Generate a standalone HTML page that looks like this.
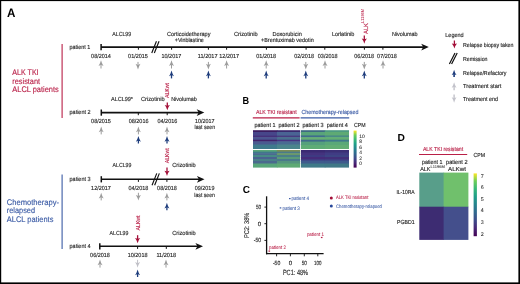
<!DOCTYPE html>
<html><head><meta charset="utf-8"><title>Figure</title><style>html,body{margin:0;padding:0;background:#fff;width:520px;height:284px;overflow:hidden}svg text{font-family:"Liberation Sans", sans-serif}svg{will-change:transform;text-rendering:geometricPrecision}</style></head><body>
<svg width="520" height="284" viewBox="0 0 520 284" style="display:block" font-family='"Liberation Sans", sans-serif'><rect x="0" y="0" width="520" height="1.1" fill="#000"/>
<rect x="0" y="0" width="1.2" height="284" fill="#000"/>
<rect x="518.4" y="0" width="1.6" height="284" fill="#000"/>
<rect x="0" y="282.4" width="520" height="1.6" fill="#000"/>
<text x="7.0" y="16.9" font-size="12.4" fill="#000" text-anchor="start" textLength="8.4" lengthAdjust="spacingAndGlyphs" font-weight="bold">A</text>
<text x="12.3" y="74.9" font-size="8.1" fill="#b91f47" text-anchor="start" stroke="#b91f47" stroke-width="0.14" textLength="26.3" lengthAdjust="spacingAndGlyphs">ALK TKI</text>
<text x="12.3" y="83.7" font-size="8.1" fill="#b91f47" text-anchor="start" stroke="#b91f47" stroke-width="0.14" textLength="27.8" lengthAdjust="spacingAndGlyphs">resistant</text>
<text x="12.3" y="92.3" font-size="8.1" fill="#b91f47" text-anchor="start" stroke="#b91f47" stroke-width="0.14" textLength="46.4" lengthAdjust="spacingAndGlyphs">ALCL patients</text>
<line x1="62.1" y1="44" x2="62.1" y2="118" stroke="#b91f47" stroke-width="1.1"/>
<text x="6.8" y="204.7" font-size="8.1" fill="#3b5ba5" text-anchor="start" stroke="#3b5ba5" stroke-width="0.14" textLength="52.3" lengthAdjust="spacingAndGlyphs">Chemotherapy-</text>
<text x="6.8" y="212.9" font-size="8.1" fill="#3b5ba5" text-anchor="start" stroke="#3b5ba5" stroke-width="0.14" textLength="28.2" lengthAdjust="spacingAndGlyphs">relapsed</text>
<text x="6.8" y="222.2" font-size="8.1" fill="#3b5ba5" text-anchor="start" stroke="#3b5ba5" stroke-width="0.14" textLength="46.6" lengthAdjust="spacingAndGlyphs">ALCL patients</text>
<line x1="62.1" y1="174.5" x2="62.1" y2="249" stroke="#3b5ba5" stroke-width="1.1"/>
<text x="69.6" y="48.9" font-size="5.9" fill="#262626" text-anchor="start" stroke="#262626" stroke-width="0.14" textLength="20.7" lengthAdjust="spacingAndGlyphs">patient 1</text>
<line x1="101.1" y1="47.1" x2="423.8" y2="47.1" stroke="#111111" stroke-width="1.6"/>
<line x1="101.1" y1="44.0" x2="101.1" y2="50.2" stroke="#111111" stroke-width="1.5"/>
<path d="M428.8 47.1L421.2 43.7L423.2 47.1L421.2 50.5Z" fill="#111111"/>
<line x1="138.4" y1="47.1" x2="138.4" y2="49.7" stroke="#111111" stroke-width="1.0"/>
<line x1="171.6" y1="47.1" x2="171.6" y2="49.7" stroke="#111111" stroke-width="1.0"/>
<line x1="208.4" y1="47.1" x2="208.4" y2="49.7" stroke="#111111" stroke-width="1.0"/>
<line x1="226.6" y1="47.1" x2="226.6" y2="49.7" stroke="#111111" stroke-width="1.0"/>
<line x1="266.4" y1="47.1" x2="266.4" y2="49.7" stroke="#111111" stroke-width="1.0"/>
<line x1="306.1" y1="47.1" x2="306.1" y2="49.7" stroke="#111111" stroke-width="1.0"/>
<line x1="324.8" y1="47.1" x2="324.8" y2="49.7" stroke="#111111" stroke-width="1.0"/>
<line x1="364.4" y1="47.1" x2="364.4" y2="49.7" stroke="#111111" stroke-width="1.0"/>
<line x1="382.9" y1="47.1" x2="382.9" y2="49.7" stroke="#111111" stroke-width="1.0"/>
<path d="M151.75 53.0L156.45 41.2 M154.35000000000002 53.0L159.05 41.2" fill="none" stroke="#111111" stroke-width="1.15"/>
<text x="121.7" y="36.0" font-size="5.9" fill="#262626" text-anchor="middle" stroke="#262626" stroke-width="0.14" textLength="18.8" lengthAdjust="spacingAndGlyphs">ALCL99</text>
<text x="188.7" y="36.0" font-size="5.9" fill="#262626" text-anchor="middle" stroke="#262626" stroke-width="0.14" textLength="43.5" lengthAdjust="spacingAndGlyphs">Corticoidetherapy</text>
<text x="189.3" y="42.0" font-size="5.9" fill="#262626" text-anchor="middle" stroke="#262626" stroke-width="0.14" textLength="29" lengthAdjust="spacingAndGlyphs">+Vinblastine</text>
<text x="245.8" y="36.2" font-size="5.9" fill="#262626" text-anchor="middle" stroke="#262626" stroke-width="0.14" textLength="23.5" lengthAdjust="spacingAndGlyphs">Crizotinib</text>
<text x="287.1" y="36.2" font-size="5.9" fill="#262626" text-anchor="middle" stroke="#262626" stroke-width="0.14" textLength="29.3" lengthAdjust="spacingAndGlyphs">Doxorubicin</text>
<text x="287.4" y="42.4" font-size="5.9" fill="#262626" text-anchor="middle" stroke="#262626" stroke-width="0.14" textLength="52.7" lengthAdjust="spacingAndGlyphs">+Brentuximab vedotin</text>
<text x="343.1" y="36.2" font-size="5.9" fill="#262626" text-anchor="middle" stroke="#262626" stroke-width="0.14" textLength="22.4" lengthAdjust="spacingAndGlyphs">Lorlatinib</text>
<text x="404.8" y="36.2" font-size="5.9" fill="#262626" text-anchor="middle" stroke="#262626" stroke-width="0.14" textLength="25.7" lengthAdjust="spacingAndGlyphs">Nivolumab</text>
<text x="101" y="57.5" font-size="5.9" fill="#262626" text-anchor="middle" stroke="#262626" stroke-width="0.14" textLength="19.8" lengthAdjust="spacingAndGlyphs">08/2014</text>
<text x="138" y="57.5" font-size="5.9" fill="#262626" text-anchor="middle" stroke="#262626" stroke-width="0.14" textLength="19.8" lengthAdjust="spacingAndGlyphs">01/2015</text>
<text x="171.4" y="57.5" font-size="5.9" fill="#262626" text-anchor="middle" stroke="#262626" stroke-width="0.14" textLength="19.8" lengthAdjust="spacingAndGlyphs">10/2017</text>
<text x="207.7" y="57.5" font-size="5.9" fill="#262626" text-anchor="middle" stroke="#262626" stroke-width="0.14" textLength="19.8" lengthAdjust="spacingAndGlyphs">11/2017</text>
<text x="229.2" y="57.5" font-size="5.9" fill="#262626" text-anchor="middle" stroke="#262626" stroke-width="0.14" textLength="19.8" lengthAdjust="spacingAndGlyphs">12/2017</text>
<text x="266.2" y="57.5" font-size="5.9" fill="#262626" text-anchor="middle" stroke="#262626" stroke-width="0.14" textLength="19.8" lengthAdjust="spacingAndGlyphs">01/2018</text>
<text x="304.1" y="57.5" font-size="5.9" fill="#262626" text-anchor="middle" stroke="#262626" stroke-width="0.14" textLength="19.8" lengthAdjust="spacingAndGlyphs">02/2018</text>
<text x="327.7" y="57.5" font-size="5.9" fill="#262626" text-anchor="middle" stroke="#262626" stroke-width="0.14" textLength="19.8" lengthAdjust="spacingAndGlyphs">03/2018</text>
<text x="364.2" y="57.5" font-size="5.9" fill="#262626" text-anchor="middle" stroke="#262626" stroke-width="0.14" textLength="19.8" lengthAdjust="spacingAndGlyphs">06/2018</text>
<text x="387.0" y="57.5" font-size="5.9" fill="#262626" text-anchor="middle" stroke="#262626" stroke-width="0.14" textLength="19.8" lengthAdjust="spacingAndGlyphs">07/2018</text>
<path d="M101 60.3Q101.8 63.5 103.5 66.0L101 64.8L98.5 66.0Q100.2 63.5 101 60.3Z" fill="#9c9c9c"/>
<line x1="101" y1="64.2" x2="101" y2="68.5" stroke="#9c9c9c" stroke-width="1.0"/>
<path d="M171.5 60.3Q172.3 63.5 174.0 66.0L171.5 64.8L169.0 66.0Q170.7 63.5 171.5 60.3Z" fill="#9c9c9c"/>
<line x1="171.5" y1="64.2" x2="171.5" y2="68.5" stroke="#9c9c9c" stroke-width="1.0"/>
<path d="M226.6 60.3Q227.4 63.5 229.1 66.0L226.6 64.8L224.1 66.0Q225.79999999999998 63.5 226.6 60.3Z" fill="#9c9c9c"/>
<line x1="226.6" y1="64.2" x2="226.6" y2="68.5" stroke="#9c9c9c" stroke-width="1.0"/>
<path d="M266.2 60.3Q267.0 63.5 268.7 66.0L266.2 64.8L263.7 66.0Q265.4 63.5 266.2 60.3Z" fill="#9c9c9c"/>
<line x1="266.2" y1="64.2" x2="266.2" y2="68.5" stroke="#9c9c9c" stroke-width="1.0"/>
<path d="M325 60.3Q325.8 63.5 327.5 66.0L325 64.8L322.5 66.0Q324.2 63.5 325 60.3Z" fill="#9c9c9c"/>
<line x1="325" y1="64.2" x2="325" y2="68.5" stroke="#9c9c9c" stroke-width="1.0"/>
<path d="M383 60.3Q383.8 63.5 385.5 66.0L383 64.8L380.5 66.0Q382.2 63.5 383 60.3Z" fill="#9c9c9c"/>
<line x1="383" y1="64.2" x2="383" y2="68.5" stroke="#9c9c9c" stroke-width="1.0"/>
<path d="M138 69.5Q138.8 66.3 140.5 63.8L138 65.0L135.5 63.8Q137.2 66.3 138 69.5Z" fill="#9c9c9c"/>
<line x1="138" y1="61.9" x2="138" y2="65.6" stroke="#9c9c9c" stroke-width="1.0"/>
<path d="M208.4 69.5Q209.20000000000002 66.3 210.9 63.8L208.4 65.0L205.9 63.8Q207.6 66.3 208.4 69.5Z" fill="#9c9c9c"/>
<line x1="208.4" y1="61.9" x2="208.4" y2="65.6" stroke="#9c9c9c" stroke-width="1.0"/>
<path d="M305.8 69.5Q306.6 66.3 308.3 63.8L305.8 65.0L303.3 63.8Q305.0 66.3 305.8 69.5Z" fill="#9c9c9c"/>
<line x1="305.8" y1="61.9" x2="305.8" y2="65.6" stroke="#9c9c9c" stroke-width="1.0"/>
<path d="M364.3 69.5Q365.1 66.3 366.8 63.8L364.3 65.0L361.8 63.8Q363.5 66.3 364.3 69.5Z" fill="#9c9c9c"/>
<line x1="364.3" y1="61.9" x2="364.3" y2="65.6" stroke="#9c9c9c" stroke-width="1.0"/>
<path d="M171.5 70.6Q172.3 73.8 174.0 76.3L171.5 75.1L169.0 76.3Q170.7 73.8 171.5 70.6Z" fill="#1d3c7c"/>
<line x1="171.5" y1="74.5" x2="171.5" y2="78.4" stroke="#1d3c7c" stroke-width="1.3"/>
<path d="M208.4 70.6Q209.20000000000002 73.8 210.9 76.3L208.4 75.1L205.9 76.3Q207.6 73.8 208.4 70.6Z" fill="#1d3c7c"/>
<line x1="208.4" y1="74.5" x2="208.4" y2="78.4" stroke="#1d3c7c" stroke-width="1.3"/>
<path d="M266.2 70.6Q267.0 73.8 268.7 76.3L266.2 75.1L263.7 76.3Q265.4 73.8 266.2 70.6Z" fill="#1d3c7c"/>
<line x1="266.2" y1="74.5" x2="266.2" y2="78.4" stroke="#1d3c7c" stroke-width="1.3"/>
<path d="M305.8 70.6Q306.6 73.8 308.3 76.3L305.8 75.1L303.3 76.3Q305.0 73.8 305.8 70.6Z" fill="#1d3c7c"/>
<line x1="305.8" y1="74.5" x2="305.8" y2="78.4" stroke="#1d3c7c" stroke-width="1.3"/>
<path d="M364.3 70.6Q365.1 73.8 366.8 76.3L364.3 75.1L361.8 76.3Q363.5 73.8 364.3 70.6Z" fill="#1d3c7c"/>
<line x1="364.3" y1="74.5" x2="364.3" y2="78.4" stroke="#1d3c7c" stroke-width="1.3"/>
<path d="M364.3 43.8Q365.1 40.599999999999994 366.90000000000003 38.599999999999994L364.3 39.3L361.7 38.599999999999994Q363.5 40.599999999999994 364.3 43.8Z" fill="#a30f38"/>
<line x1="364.3" y1="35.4" x2="364.3" y2="39.9" stroke="#a30f38" stroke-width="1.3"/>
<text x="367.8" y="34.0" font-size="6.2" fill="#b91f47" text-anchor="start" stroke="#b91f47" stroke-width="0.14" textLength="11.0" lengthAdjust="spacingAndGlyphs" transform="rotate(-90 367.8 34.0)">ALK</text>
<text x="364.3" y="23.0" font-size="4.3" fill="#b91f47" text-anchor="start" stroke="#b91f47" stroke-width="0.056" textLength="14.2" lengthAdjust="spacingAndGlyphs" transform="rotate(-90 364.3 23.0)">L1196M</text>
<text x="69.6" y="114.3" font-size="5.9" fill="#262626" text-anchor="start" stroke="#262626" stroke-width="0.14" textLength="20.9" lengthAdjust="spacingAndGlyphs">patient 2</text>
<line x1="101.3" y1="112.6" x2="199.3" y2="112.6" stroke="#111111" stroke-width="1.6"/>
<line x1="101.3" y1="109.5" x2="101.3" y2="115.69999999999999" stroke="#111111" stroke-width="1.5"/>
<path d="M204.3 112.6L196.70000000000002 109.19999999999999L198.70000000000002 112.6L196.70000000000002 116.0Z" fill="#111111"/>
<line x1="138.3" y1="112.6" x2="138.3" y2="115.19999999999999" stroke="#111111" stroke-width="1.0"/>
<line x1="167.2" y1="112.6" x2="167.2" y2="115.19999999999999" stroke="#111111" stroke-width="1.0"/>
<text x="122" y="100.8" font-size="5.9" fill="#262626" text-anchor="middle" stroke="#262626" stroke-width="0.14" textLength="22" lengthAdjust="spacingAndGlyphs">ALCL99*</text>
<text x="152.8" y="100.8" font-size="5.9" fill="#262626" text-anchor="middle" stroke="#262626" stroke-width="0.14" textLength="23.5" lengthAdjust="spacingAndGlyphs">Crizotinib</text>
<text x="184" y="100.8" font-size="5.9" fill="#262626" text-anchor="middle" stroke="#262626" stroke-width="0.14" textLength="25.7" lengthAdjust="spacingAndGlyphs">Nivolumab</text>
<text x="101" y="122.9" font-size="5.9" fill="#262626" text-anchor="middle" stroke="#262626" stroke-width="0.14" textLength="19.8" lengthAdjust="spacingAndGlyphs">08/2015</text>
<text x="138.6" y="122.9" font-size="5.9" fill="#262626" text-anchor="middle" stroke="#262626" stroke-width="0.14" textLength="19.8" lengthAdjust="spacingAndGlyphs">08/2016</text>
<text x="167.4" y="122.9" font-size="5.9" fill="#262626" text-anchor="middle" stroke="#262626" stroke-width="0.14" textLength="19.8" lengthAdjust="spacingAndGlyphs">04/2016</text>
<text x="204.8" y="122.9" font-size="5.9" fill="#262626" text-anchor="middle" stroke="#262626" stroke-width="0.14" textLength="19.6" lengthAdjust="spacingAndGlyphs">10/2017</text>
<text x="204.8" y="129.4" font-size="5.9" fill="#262626" text-anchor="middle" stroke="#262626" stroke-width="0.14" textLength="20.5" lengthAdjust="spacingAndGlyphs">last seen</text>
<path d="M101.2 126.6Q102.0 129.79999999999998 103.7 132.29999999999998L101.2 131.1L98.7 132.29999999999998Q100.4 129.79999999999998 101.2 126.6Z" fill="#9c9c9c"/>
<line x1="101.2" y1="130.5" x2="101.2" y2="134.4" stroke="#9c9c9c" stroke-width="1.0"/>
<path d="M138.4 126.6Q139.20000000000002 129.79999999999998 140.9 132.29999999999998L138.4 131.1L135.9 132.29999999999998Q137.6 129.79999999999998 138.4 126.6Z" fill="#9c9c9c"/>
<line x1="138.4" y1="130.5" x2="138.4" y2="134.4" stroke="#9c9c9c" stroke-width="1.0"/>
<path d="M167 126.6Q167.8 129.79999999999998 169.5 132.29999999999998L167 131.1L164.5 132.29999999999998Q166.2 129.79999999999998 167 126.6Z" fill="#9c9c9c"/>
<line x1="167" y1="130.5" x2="167" y2="134.4" stroke="#9c9c9c" stroke-width="1.0"/>
<path d="M138.4 136.0Q139.20000000000002 139.2 140.9 141.7L138.4 140.5L135.9 141.7Q137.6 139.2 138.4 136.0Z" fill="#1d3c7c"/>
<line x1="138.4" y1="139.9" x2="138.4" y2="143.5" stroke="#1d3c7c" stroke-width="1.3"/>
<path d="M167 136.0Q167.8 139.2 169.5 141.7L167 140.5L164.5 141.7Q166.2 139.2 167 136.0Z" fill="#1d3c7c"/>
<line x1="167" y1="139.9" x2="167" y2="143.5" stroke="#1d3c7c" stroke-width="1.3"/>
<path d="M167.3 110.3Q168.10000000000002 107.1 169.9 105.1L167.3 105.8L164.70000000000002 105.1Q166.5 107.1 167.3 110.3Z" fill="#a30f38"/>
<line x1="167.3" y1="102.4" x2="167.3" y2="106.39999999999999" stroke="#a30f38" stroke-width="1.3"/>
<text x="169.3" y="98.0" font-size="5.8" fill="#b91f47" text-anchor="start" stroke="#b91f47" stroke-width="0.14" textLength="14.9" lengthAdjust="spacingAndGlyphs" transform="rotate(-90 169.3 98.0)">ALKwt</text>
<text x="69.6" y="181.1" font-size="5.9" fill="#262626" text-anchor="start" stroke="#262626" stroke-width="0.14" textLength="20.9" lengthAdjust="spacingAndGlyphs">patient 3</text>
<line x1="101.3" y1="179.3" x2="199.5" y2="179.3" stroke="#111111" stroke-width="1.6"/>
<line x1="101.3" y1="176.20000000000002" x2="101.3" y2="182.4" stroke="#111111" stroke-width="1.5"/>
<path d="M204.5 179.3L196.9 175.9L198.9 179.3L196.9 182.70000000000002Z" fill="#111111"/>
<line x1="138.4" y1="179.3" x2="138.4" y2="181.9" stroke="#111111" stroke-width="1.0"/>
<line x1="166.9" y1="179.3" x2="166.9" y2="181.9" stroke="#111111" stroke-width="1.0"/>
<path d="M152.04999999999998 185.20000000000002L156.74999999999997 173.4 M154.65 185.20000000000002L159.35 173.4" fill="none" stroke="#111111" stroke-width="1.15"/>
<text x="122" y="167.0" font-size="5.9" fill="#262626" text-anchor="middle" stroke="#262626" stroke-width="0.14" textLength="18.8" lengthAdjust="spacingAndGlyphs">ALCL99</text>
<text x="184" y="167.0" font-size="5.9" fill="#262626" text-anchor="middle" stroke="#262626" stroke-width="0.14" textLength="23.5" lengthAdjust="spacingAndGlyphs">Crizotinib</text>
<text x="101" y="190.2" font-size="5.9" fill="#262626" text-anchor="middle" stroke="#262626" stroke-width="0.14" textLength="19.8" lengthAdjust="spacingAndGlyphs">12/2017</text>
<text x="138.4" y="190.2" font-size="5.9" fill="#262626" text-anchor="middle" stroke="#262626" stroke-width="0.14" textLength="19.8" lengthAdjust="spacingAndGlyphs">04/2018</text>
<text x="167" y="190.2" font-size="5.9" fill="#262626" text-anchor="middle" stroke="#262626" stroke-width="0.14" textLength="19.8" lengthAdjust="spacingAndGlyphs">08/2018</text>
<text x="204.6" y="190.2" font-size="5.9" fill="#262626" text-anchor="middle" stroke="#262626" stroke-width="0.14" textLength="19.6" lengthAdjust="spacingAndGlyphs">09/2019</text>
<text x="204.6" y="196.8" font-size="5.9" fill="#262626" text-anchor="middle" stroke="#262626" stroke-width="0.14" textLength="20.5" lengthAdjust="spacingAndGlyphs">last seen</text>
<path d="M101.2 192.8Q102.0 196.0 103.7 198.5L101.2 197.3L98.7 198.5Q100.4 196.0 101.2 192.8Z" fill="#9c9c9c"/>
<line x1="101.2" y1="196.70000000000002" x2="101.2" y2="200.4" stroke="#9c9c9c" stroke-width="1.0"/>
<path d="M138.4 200.6Q139.20000000000002 197.4 140.9 194.9L138.4 196.1L135.9 194.9Q137.6 197.4 138.4 200.6Z" fill="#9c9c9c"/>
<line x1="138.4" y1="192.8" x2="138.4" y2="196.7" stroke="#9c9c9c" stroke-width="1.0"/>
<path d="M166.9 192.8Q167.70000000000002 196.0 169.4 198.5L166.9 197.3L164.4 198.5Q166.1 196.0 166.9 192.8Z" fill="#9c9c9c"/>
<line x1="166.9" y1="196.70000000000002" x2="166.9" y2="200.4" stroke="#9c9c9c" stroke-width="1.0"/>
<path d="M166.9 202.8Q167.70000000000002 206.0 169.4 208.5L166.9 207.3L164.4 208.5Q166.1 206.0 166.9 202.8Z" fill="#1d3c7c"/>
<line x1="166.9" y1="206.70000000000002" x2="166.9" y2="210.3" stroke="#1d3c7c" stroke-width="1.3"/>
<path d="M167.0 176.0Q167.8 172.8 169.6 170.8L167.0 171.5L164.4 170.8Q166.2 172.8 167.0 176.0Z" fill="#a30f38"/>
<line x1="167.0" y1="167.6" x2="167.0" y2="172.1" stroke="#a30f38" stroke-width="1.3"/>
<text x="169.2" y="163.2" font-size="5.8" fill="#b91f47" text-anchor="start" stroke="#b91f47" stroke-width="0.14" textLength="14.9" lengthAdjust="spacingAndGlyphs" transform="rotate(-90 169.2 163.2)">ALKwt</text>
<text x="69.6" y="248.0" font-size="5.9" fill="#262626" text-anchor="start" stroke="#262626" stroke-width="0.14" textLength="20.9" lengthAdjust="spacingAndGlyphs">patient 4</text>
<line x1="99.8" y1="246.3" x2="198" y2="246.3" stroke="#111111" stroke-width="1.6"/>
<line x1="99.8" y1="243.20000000000002" x2="99.8" y2="249.4" stroke="#111111" stroke-width="1.5"/>
<path d="M203 246.3L195.4 242.9L197.4 246.3L195.4 249.70000000000002Z" fill="#111111"/>
<line x1="137.6" y1="246.3" x2="137.6" y2="248.9" stroke="#111111" stroke-width="1.0"/>
<line x1="166.3" y1="246.3" x2="166.3" y2="248.9" stroke="#111111" stroke-width="1.0"/>
<text x="119" y="234.8" font-size="5.9" fill="#262626" text-anchor="middle" stroke="#262626" stroke-width="0.14" textLength="18.8" lengthAdjust="spacingAndGlyphs">ALCL99</text>
<text x="184" y="234.8" font-size="5.9" fill="#262626" text-anchor="middle" stroke="#262626" stroke-width="0.14" textLength="23.5" lengthAdjust="spacingAndGlyphs">Crizotinib</text>
<text x="100" y="256.9" font-size="5.9" fill="#262626" text-anchor="middle" stroke="#262626" stroke-width="0.14" textLength="19.8" lengthAdjust="spacingAndGlyphs">06/2018</text>
<text x="137.6" y="256.9" font-size="5.9" fill="#262626" text-anchor="middle" stroke="#262626" stroke-width="0.14" textLength="19.8" lengthAdjust="spacingAndGlyphs">10/2018</text>
<text x="166.3" y="256.9" font-size="5.9" fill="#262626" text-anchor="middle" stroke="#262626" stroke-width="0.14" textLength="19.8" lengthAdjust="spacingAndGlyphs">11/2018</text>
<path d="M100 259.6Q100.8 262.8 102.5 265.3L100 264.1L97.5 265.3Q99.2 262.8 100 259.6Z" fill="#9c9c9c"/>
<line x1="100" y1="263.5" x2="100" y2="267.6" stroke="#9c9c9c" stroke-width="1.0"/>
<path d="M137.6 267.8Q138.4 264.6 140.1 262.1L137.6 263.3L135.1 262.1Q136.79999999999998 264.6 137.6 267.8Z" fill="#bfbfc6"/>
<line x1="137.6" y1="259.8" x2="137.6" y2="263.90000000000003" stroke="#bfbfc6" stroke-width="1.0"/>
<path d="M166.0 259.6Q166.8 262.8 168.5 265.3L166.0 264.1L163.5 265.3Q165.2 262.8 166.0 259.6Z" fill="#9c9c9c"/>
<line x1="166.0" y1="263.5" x2="166.0" y2="267.6" stroke="#9c9c9c" stroke-width="1.0"/>
<path d="M137.6 269.6Q138.4 272.8 140.1 275.3L137.6 274.1L135.1 275.3Q136.79999999999998 272.8 137.6 269.6Z" fill="#1d3c7c"/>
<line x1="137.6" y1="273.5" x2="137.6" y2="277" stroke="#1d3c7c" stroke-width="1.3"/>
<path d="M137.6 243.2Q138.4 240.0 140.2 238.0L137.6 238.7L135.0 238.0Q136.79999999999998 240.0 137.6 243.2Z" fill="#a30f38"/>
<line x1="137.6" y1="235.2" x2="137.6" y2="239.29999999999998" stroke="#a30f38" stroke-width="1.3"/>
<text x="139.8" y="230.4" font-size="5.8" fill="#b91f47" text-anchor="start" stroke="#b91f47" stroke-width="0.14" textLength="14.9" lengthAdjust="spacingAndGlyphs" transform="rotate(-90 139.8 230.4)">ALKwt</text>
<text x="445.3" y="37.0" font-size="5.9" fill="#262626" text-anchor="start" stroke="#262626" stroke-width="0.14" textLength="18.4" lengthAdjust="spacingAndGlyphs">Legend</text>
<path d="M454.4 48.6Q455.2 45.4 457.0 43.4L454.4 44.1L451.79999999999995 43.4Q453.59999999999997 45.4 454.4 48.6Z" fill="#a30f38"/>
<line x1="454.4" y1="40.5" x2="454.4" y2="44.7" stroke="#a30f38" stroke-width="1.3"/>
<text x="463.0" y="46.8" font-size="5.9" fill="#262626" text-anchor="start" stroke="#262626" stroke-width="0.14" textLength="50.4" lengthAdjust="spacingAndGlyphs">Relapse biopsy taken</text>
<path d="M449.4 64.1L455 52.9 M451.6 64.1L457.2 52.9" fill="none" stroke="#111111" stroke-width="1.2"/>
<text x="463.0" y="60.6" font-size="5.9" fill="#262626" text-anchor="start" stroke="#262626" stroke-width="0.14" textLength="24.5" lengthAdjust="spacingAndGlyphs">Remission</text>
<path d="M454.1 69.7Q454.90000000000003 72.9 456.5 75.10000000000001L454.1 74.2L451.70000000000005 75.10000000000001Q453.3 72.9 454.1 69.7Z" fill="#1d3c7c"/>
<line x1="454.1" y1="73.60000000000001" x2="454.1" y2="76.9" stroke="#1d3c7c" stroke-width="1.6"/>
<text x="463.0" y="75.0" font-size="5.9" fill="#262626" text-anchor="start" stroke="#262626" stroke-width="0.14" textLength="43.5" lengthAdjust="spacingAndGlyphs">Relapse/Refactory</text>
<path d="M454.1 82.2Q454.90000000000003 85.4 456.5 87.8L454.1 86.7L451.70000000000005 87.8Q453.3 85.4 454.1 82.2Z" fill="#c2c2ca"/>
<line x1="454.1" y1="86.10000000000001" x2="454.1" y2="90.2" stroke="#c2c2ca" stroke-width="1.4"/>
<text x="463.0" y="88.0" font-size="5.9" fill="#262626" text-anchor="start" stroke="#262626" stroke-width="0.14" textLength="38.3" lengthAdjust="spacingAndGlyphs">Treatment start</text>
<path d="M454.1 102.8Q454.90000000000003 99.6 456.5 97.2L454.1 98.3L451.70000000000005 97.2Q453.3 99.6 454.1 102.8Z" fill="#c2c2ca"/>
<line x1="454.1" y1="94.6" x2="454.1" y2="98.89999999999999" stroke="#c2c2ca" stroke-width="1.4"/>
<text x="463.0" y="100.6" font-size="5.9" fill="#262626" text-anchor="start" stroke="#262626" stroke-width="0.14" textLength="35" lengthAdjust="spacingAndGlyphs">Treatment end</text>
<!-- Panel B -->
<text x="242.6" y="104.0" font-size="10.2" fill="#000" text-anchor="start" textLength="6.6" lengthAdjust="spacingAndGlyphs" font-weight="bold">B</text>
<text x="276.3" y="114.3" font-size="5.9" fill="#b91f47" text-anchor="middle" stroke="#b91f47" stroke-width="0.14" textLength="40.8" lengthAdjust="spacingAndGlyphs">ALK TKI resistant</text>
<line x1="252.8" y1="117.9" x2="299.6" y2="117.9" stroke="#b91f47" stroke-width="1.1"/>
<text x="329.9" y="114.3" font-size="5.9" fill="#3b5ba5" text-anchor="middle" stroke="#3b5ba5" stroke-width="0.14" textLength="57" lengthAdjust="spacingAndGlyphs">Chemotherapy-relapsed</text>
<line x1="300.6" y1="117.9" x2="349.2" y2="117.9" stroke="#3b5ba5" stroke-width="1.1"/>
<text x="265" y="126.5" font-size="5.9" fill="#262626" text-anchor="middle" stroke="#262626" stroke-width="0.14" textLength="21" lengthAdjust="spacingAndGlyphs">patient 1</text>
<text x="289" y="126.5" font-size="5.9" fill="#262626" text-anchor="middle" stroke="#262626" stroke-width="0.14" textLength="21" lengthAdjust="spacingAndGlyphs">patient 2</text>
<text x="313" y="126.5" font-size="5.9" fill="#262626" text-anchor="middle" stroke="#262626" stroke-width="0.14" textLength="21" lengthAdjust="spacingAndGlyphs">patient 3</text>
<text x="337.3" y="126.5" font-size="5.9" fill="#262626" text-anchor="middle" stroke="#262626" stroke-width="0.14" textLength="21" lengthAdjust="spacingAndGlyphs">patient 4</text>
<text x="354" y="126.5" font-size="5.9" fill="#262626" text-anchor="start" stroke="#262626" stroke-width="0.14" textLength="11.6" lengthAdjust="spacingAndGlyphs">CPM</text>
<rect x="253" y="130.2" width="24.4" height="2.4" fill="#3b1d60"/>
<rect x="253" y="132" width="24.4" height="4.2" fill="#47468a"/>
<rect x="253" y="135.6" width="24.4" height="2.2" fill="#45307a"/>
<rect x="253" y="137.2" width="24.4" height="3.1" fill="#4a5590"/>
<rect x="253" y="139.7" width="24.4" height="2.2" fill="#42226a"/>
<rect x="253" y="141.3" width="24.4" height="3.8" fill="#4a5a90"/>
<rect x="253" y="144.5" width="24.4" height="4.5" fill="#3f7a8c"/>
<rect x="253" y="150" width="24.4" height="2.2" fill="#5aa678"/>
<rect x="253" y="151.6" width="24.4" height="2.2" fill="#3f7a8a"/>
<rect x="253" y="153.2" width="24.4" height="2.4" fill="#4a6a90"/>
<rect x="253" y="155" width="24.4" height="2.6" fill="#478a86"/>
<rect x="253" y="157" width="24.4" height="2.6" fill="#4a6290"/>
<rect x="253" y="159" width="24.4" height="2.6" fill="#4a8088"/>
<rect x="253" y="161" width="24.4" height="3.1" fill="#4a6a8e"/>
<rect x="253" y="163.5" width="24.4" height="4.1" fill="#58a67a"/>
<rect x="276.9" y="130.2" width="23.3" height="2.4" fill="#3a2a6e"/>
<rect x="276.9" y="132" width="23.3" height="4.2" fill="#4a6494"/>
<rect x="276.9" y="135.6" width="23.3" height="2.2" fill="#483a80"/>
<rect x="276.9" y="137.2" width="23.3" height="3.1" fill="#48708e"/>
<rect x="276.9" y="139.7" width="23.3" height="2.2" fill="#473282"/>
<rect x="276.9" y="141.3" width="23.3" height="3.8" fill="#486a92"/>
<rect x="276.9" y="144.5" width="23.3" height="4.5" fill="#4a848c"/>
<rect x="276.9" y="150" width="23.3" height="2.2" fill="#7a8c56"/>
<rect x="276.9" y="151.6" width="23.3" height="2.2" fill="#4a7a8a"/>
<rect x="276.9" y="153.2" width="23.3" height="2.4" fill="#6a9868"/>
<rect x="276.9" y="155" width="23.3" height="2.6" fill="#4a7e8a"/>
<rect x="276.9" y="157" width="23.3" height="2.6" fill="#5a9a78"/>
<rect x="276.9" y="159" width="23.3" height="2.6" fill="#4a7a8a"/>
<rect x="276.9" y="161" width="23.3" height="3.1" fill="#54947e"/>
<rect x="276.9" y="163.5" width="23.3" height="4.1" fill="#5eaa74"/>
<rect x="301" y="130.2" width="24.3" height="2.4" fill="#3e6a82"/>
<rect x="301" y="132" width="24.3" height="4.0" fill="#58a47a"/>
<rect x="301" y="135.4" width="24.3" height="2.4" fill="#3f6c8e"/>
<rect x="301" y="137.2" width="24.3" height="3.1" fill="#66ae74"/>
<rect x="301" y="139.7" width="24.3" height="2.5" fill="#3f6a8c"/>
<rect x="301" y="141.6" width="24.3" height="4.0" fill="#55a07c"/>
<rect x="301" y="145" width="24.3" height="4.0" fill="#5eac76"/>
<rect x="301" y="150" width="24.3" height="3.1" fill="#3a2a72"/>
<rect x="301" y="152.5" width="24.3" height="3.1" fill="#44337e"/>
<rect x="301" y="155" width="24.3" height="2.6" fill="#3e3a82"/>
<rect x="301" y="157" width="24.3" height="3.1" fill="#452c7a"/>
<rect x="301" y="159.5" width="24.3" height="2.1" fill="#3f4a88"/>
<rect x="301" y="161" width="24.3" height="3.1" fill="#3f5a8c"/>
<rect x="301" y="163.5" width="24.3" height="4.1" fill="#3f7a88"/>
<rect x="324.8" y="130.2" width="24.2" height="2.4" fill="#4c9a80"/>
<rect x="324.8" y="132" width="24.2" height="4.0" fill="#5eaa74"/>
<rect x="324.8" y="135.4" width="24.2" height="2.4" fill="#4a8a86"/>
<rect x="324.8" y="137.2" width="24.2" height="3.1" fill="#62ae72"/>
<rect x="324.8" y="139.7" width="24.2" height="2.5" fill="#3f7a8c"/>
<rect x="324.8" y="141.6" width="24.2" height="4.0" fill="#5aa878"/>
<rect x="324.8" y="145" width="24.2" height="4.0" fill="#62ae74"/>
<rect x="324.8" y="150" width="24.2" height="3.1" fill="#3b3076"/>
<rect x="324.8" y="152.5" width="24.2" height="3.1" fill="#403c84"/>
<rect x="324.8" y="155" width="24.2" height="2.6" fill="#3d4484"/>
<rect x="324.8" y="157" width="24.2" height="3.1" fill="#42307a"/>
<rect x="324.8" y="159.5" width="24.2" height="2.1" fill="#3e4a88"/>
<rect x="324.8" y="161" width="24.2" height="3.1" fill="#3f5a8c"/>
<rect x="324.8" y="163.5" width="24.2" height="4.1" fill="#407886"/>
<defs><linearGradient id="vir" x1="0" y1="1" x2="0" y2="0"><stop offset="0" stop-color="#440154"/><stop offset="0.13" stop-color="#482878"/><stop offset="0.25" stop-color="#3e4a89"/><stop offset="0.38" stop-color="#31688e"/><stop offset="0.5" stop-color="#26828e"/><stop offset="0.63" stop-color="#1f9e89"/><stop offset="0.75" stop-color="#35b779"/><stop offset="0.88" stop-color="#6ece58"/><stop offset="1" stop-color="#fde725"/></linearGradient></defs>
<rect x="353.6" y="130.6" width="3" height="37" fill="url(#vir)"/>
<text x="359.3" y="137.85" font-size="4.9" fill="#262626" text-anchor="start" stroke="#262626" stroke-width="0.056" textLength="5.6" lengthAdjust="spacingAndGlyphs">10</text>
<text x="359.3" y="143.29" font-size="4.9" fill="#262626" text-anchor="start" stroke="#262626" stroke-width="0.056">8</text>
<text x="359.3" y="148.73" font-size="4.9" fill="#262626" text-anchor="start" stroke="#262626" stroke-width="0.056">6</text>
<text x="359.3" y="154.17" font-size="4.9" fill="#262626" text-anchor="start" stroke="#262626" stroke-width="0.056">4</text>
<text x="359.3" y="159.60999999999999" font-size="4.9" fill="#262626" text-anchor="start" stroke="#262626" stroke-width="0.056">2</text>
<text x="359.3" y="165.05" font-size="4.9" fill="#262626" text-anchor="start" stroke="#262626" stroke-width="0.056">0</text>
<!-- Panel C -->
<text x="242.8" y="193.0" font-size="10.2" fill="#000" text-anchor="start" textLength="7.2" lengthAdjust="spacingAndGlyphs" font-weight="bold">C</text>
<line x1="266.6" y1="196.3" x2="266.6" y2="254.3" stroke="#111" stroke-width="1.3"/>
<line x1="266.0" y1="253.7" x2="323.6" y2="253.7" stroke="#111" stroke-width="1.3"/>
<line x1="264.4" y1="207.1" x2="266.6" y2="207.1" stroke="#111" stroke-width="0.9"/>
<text x="261.2" y="209.1" font-size="6.0" fill="#262626" text-anchor="end" stroke="#262626" stroke-width="0.14" textLength="5.2" lengthAdjust="spacingAndGlyphs">50</text>
<line x1="264.4" y1="223.7" x2="266.6" y2="223.7" stroke="#111" stroke-width="0.9"/>
<text x="261.2" y="225.7" font-size="6.0" fill="#262626" text-anchor="end" stroke="#262626" stroke-width="0.14">0</text>
<line x1="264.4" y1="240.4" x2="266.6" y2="240.4" stroke="#111" stroke-width="0.9"/>
<text x="261.2" y="242.4" font-size="6.0" fill="#262626" text-anchor="end" stroke="#262626" stroke-width="0.14" textLength="7.4" lengthAdjust="spacingAndGlyphs">-50</text>
<line x1="276.6" y1="253.7" x2="276.6" y2="256.3" stroke="#111" stroke-width="0.9"/>
<text x="276.6" y="264.8" font-size="6.0" fill="#262626" text-anchor="middle" stroke="#262626" stroke-width="0.14" textLength="7.4" lengthAdjust="spacingAndGlyphs">-50</text>
<line x1="290.4" y1="253.7" x2="290.4" y2="256.3" stroke="#111" stroke-width="0.9"/>
<text x="290.4" y="264.8" font-size="6.0" fill="#262626" text-anchor="middle" stroke="#262626" stroke-width="0.14">0</text>
<line x1="304.3" y1="253.7" x2="304.3" y2="256.3" stroke="#111" stroke-width="0.9"/>
<text x="304.3" y="264.8" font-size="6.0" fill="#262626" text-anchor="middle" stroke="#262626" stroke-width="0.14" textLength="5.2" lengthAdjust="spacingAndGlyphs">50</text>
<line x1="317.8" y1="253.7" x2="317.8" y2="256.3" stroke="#111" stroke-width="0.9"/>
<text x="317.8" y="264.8" font-size="6.0" fill="#262626" text-anchor="middle" stroke="#262626" stroke-width="0.14" textLength="7.4" lengthAdjust="spacingAndGlyphs">100</text>
<text x="295.5" y="275.3" font-size="7.5" fill="#262626" text-anchor="middle" stroke="#262626" stroke-width="0.14" textLength="25.2" lengthAdjust="spacingAndGlyphs">PC1: 48%</text>
<text x="248.6" y="225.4" font-size="7.0" fill="#262626" text-anchor="middle" stroke="#262626" stroke-width="0.14" textLength="25.4" lengthAdjust="spacingAndGlyphs" transform="rotate(-90 248.6 225.4)">PC2: 38%</text>
<rect x="289.0" y="198.0" width="1.6" height="1.2" fill="#3b5ba5"/>
<rect x="279.7" y="207.3" width="1.6" height="1.2" fill="#3b5ba5"/>
<rect x="320.9" y="236.9" width="1.6" height="1.2" fill="#b91f47"/>
<rect x="268.5" y="250.5" width="1.6" height="1.2" fill="#b91f47"/>
<text x="291.5" y="200.2" font-size="5.0" fill="#3b5ba5" text-anchor="start" stroke="#3b5ba5" stroke-width="0.056" textLength="17.5" lengthAdjust="spacingAndGlyphs">patient 4</text>
<text x="282.4" y="209.9" font-size="5.0" fill="#3b5ba5" text-anchor="start" stroke="#3b5ba5" stroke-width="0.056" textLength="17.5" lengthAdjust="spacingAndGlyphs">patient 3</text>
<text x="306.9" y="236.0" font-size="5.0" fill="#b91f47" text-anchor="start" stroke="#b91f47" stroke-width="0.056" textLength="17.1" lengthAdjust="spacingAndGlyphs">patient 1</text>
<text x="269.0" y="249.4" font-size="5.0" fill="#b91f47" text-anchor="start" stroke="#b91f47" stroke-width="0.056" textLength="16.9" lengthAdjust="spacingAndGlyphs">patient 2</text>
<circle cx="331.3" cy="198.0" r="1.5" fill="#a30f38"/>
<circle cx="331.3" cy="205.9" r="1.5" fill="#27479a"/>
<text x="336" y="199.1" font-size="5.0" fill="#b91f47" text-anchor="start" stroke="#b91f47" stroke-width="0.056" textLength="32.3" lengthAdjust="spacingAndGlyphs">ALK TKI resistant</text>
<text x="336" y="207.5" font-size="5.0" fill="#3b5ba5" text-anchor="start" stroke="#3b5ba5" stroke-width="0.056" textLength="46" lengthAdjust="spacingAndGlyphs">Chemotherapy-relapsed</text>
<!-- Panel D -->
<text x="397.4" y="140.7" font-size="10.2" fill="#000" text-anchor="start" textLength="7.4" lengthAdjust="spacingAndGlyphs" font-weight="bold">D</text>
<text x="443.0" y="151.0" font-size="5.9" fill="#b91f47" text-anchor="middle" stroke="#b91f47" stroke-width="0.14" textLength="40.2" lengthAdjust="spacingAndGlyphs">ALK TKI resistant</text>
<line x1="419" y1="154.5" x2="467.2" y2="154.5" stroke="#b91f47" stroke-width="1.1"/>
<text x="432.2" y="163.6" font-size="5.9" fill="#262626" text-anchor="middle" stroke="#262626" stroke-width="0.14" textLength="20.5" lengthAdjust="spacingAndGlyphs">patient 1</text>
<text x="456.8" y="163.6" font-size="5.9" fill="#262626" text-anchor="middle" stroke="#262626" stroke-width="0.14" textLength="21.5" lengthAdjust="spacingAndGlyphs">patient 2</text>
<text x="420.2" y="170.7" font-size="5.9" fill="#262626" text-anchor="start" stroke="#262626" stroke-width="0.14" textLength="10.3" lengthAdjust="spacingAndGlyphs">ALK</text>
<text x="430.6" y="168.0" font-size="4.0" fill="#262626" text-anchor="start" stroke="#262626" stroke-width="0.056" textLength="14.2" lengthAdjust="spacingAndGlyphs">L1196M</text>
<text x="448.0" y="170.7" font-size="5.9" fill="#262626" text-anchor="start" stroke="#262626" stroke-width="0.14" textLength="18.0" lengthAdjust="spacingAndGlyphs">ALKwt</text>
<text x="473.6" y="156.5" font-size="5.9" fill="#262626" text-anchor="start" stroke="#262626" stroke-width="0.14" textLength="11.6" lengthAdjust="spacingAndGlyphs">CPM</text>
<rect x="419.3" y="172.6" width="24.8" height="34.6" fill="#589e8a"/>
<rect x="443.6" y="172.6" width="24.8" height="34.6" fill="#70c06c"/>
<rect x="419.3" y="206.7" width="24.8" height="33.2" fill="#3d2c72"/>
<rect x="443.6" y="206.7" width="24.8" height="33.2" fill="#444f8c"/>
<text x="414.7" y="193.6" font-size="5.9" fill="#262626" text-anchor="end" stroke="#262626" stroke-width="0.14" textLength="18.3" lengthAdjust="spacingAndGlyphs">IL-10RA</text>
<text x="414.7" y="224.4" font-size="5.9" fill="#262626" text-anchor="end" stroke="#262626" stroke-width="0.14" textLength="17.8" lengthAdjust="spacingAndGlyphs">PGBD1</text>
<rect x="473.6" y="173.4" width="3.3" height="62.8" fill="url(#vir)"/>
<text x="480.8" y="177.5" font-size="5.3" fill="#262626" text-anchor="start" stroke="#262626" stroke-width="0.056">7</text>
<text x="480.8" y="189.1" font-size="5.3" fill="#262626" text-anchor="start" stroke="#262626" stroke-width="0.056">6</text>
<text x="480.8" y="200.7" font-size="5.3" fill="#262626" text-anchor="start" stroke="#262626" stroke-width="0.056">5</text>
<text x="480.8" y="212.29999999999998" font-size="5.3" fill="#262626" text-anchor="start" stroke="#262626" stroke-width="0.056">4</text>
<text x="480.8" y="223.9" font-size="5.3" fill="#262626" text-anchor="start" stroke="#262626" stroke-width="0.056">3</text>
<text x="480.8" y="235.5" font-size="5.3" fill="#262626" text-anchor="start" stroke="#262626" stroke-width="0.056">2</text></svg>
</body></html>
